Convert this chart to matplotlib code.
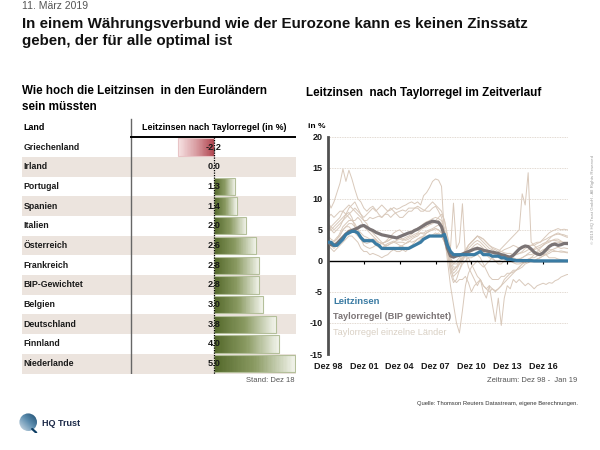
import numpy as np
import matplotlib
matplotlib.use("Agg")
import matplotlib.pyplot as plt
from matplotlib.colors import LinearSegmentedColormap
from matplotlib.patches import Rectangle, Circle

plt.rcParams['font.family'] = ['Liberation Sans', 'DejaVu Sans']
NARROW = ['Liberation Sans Narrow', 'Liberation Sans', 'DejaVu Sans']

# ---- table data (left) ----
countries = ["Griechenland", "Irland", "Portugal", "Spanien", "Italien", "Österreich",
             "Frankreich", "BIP-Gewichtet", "Belgien", "Deutschland", "Finnland", "Niederlande"]
taylor_now = [-2.2, 0.0, 1.3, 1.4, 2.0, 2.6, 2.8, 2.8, 3.0, 3.8, 4.0, 5.0]

# ---- time series (right), quarterly Dez 98 ... Dez 18, then Jan 19 ----
xtick_labels = ["Dez 98", "Dez 01", "Dez 04", "Dez 07", "Dez 10", "Dez 13", "Dez 16"]

leitzins = [3.0,
            3.0, 2.5, 2.5, 3.0,  3.5, 4.25, 4.5, 4.75,  4.75, 4.5, 3.75, 3.25,
            3.25, 3.25, 3.25, 2.75,  2.5, 2.0, 2.0, 2.0,  2.0, 2.0, 2.0, 2.0,
            2.0, 2.0, 2.0, 2.25,  2.5, 2.75, 3.0, 3.5,  3.75, 4.0, 4.0, 4.0,
            4.0, 4.0, 4.25, 2.5,  1.5, 1.0, 1.0, 1.0,  1.0, 1.0, 1.0, 1.0,
            1.0, 1.25, 1.5, 1.0,  1.0, 1.0, 0.75, 0.75,  0.75, 0.5, 0.5, 0.25,
            0.25, 0.15, 0.05, 0.05,  0.05, 0.05, 0.05, 0.05,  0.0, 0.0, 0.0, 0.0,
            0.0, 0.0, 0.0, 0.0,  0.0, 0.0, 0.0, 0.0,
            0.0]

taylor_bip = [3.1,
              2.6, 2.5, 2.8, 3.3,  3.8, 4.3, 4.7, 4.9,  5.1, 5.3, 5.6, 5.7,
              5.4, 5.1, 4.9, 4.6,  4.4, 4.2, 4.1, 4.0,  3.9, 3.8, 3.7, 3.9,
              4.1, 4.3, 4.5, 4.6,  4.9, 5.1, 5.4, 5.7,  6.0, 6.2, 6.4, 6.3,
              6.2, 5.5, 3.9, 2.0,  0.8, 0.6, 0.8, 0.9,  1.1, 1.3, 1.5, 1.7,
              1.9, 2.0, 1.9, 1.7,  1.6, 1.5, 1.4, 1.3,  1.2, 1.0, 0.9, 0.7,
              0.6, 0.9, 1.4, 1.9,  2.2, 2.4, 2.3, 1.9,  1.4, 1.1, 1.0, 1.3,
              1.8, 2.3, 2.6, 2.7,  2.5, 2.6, 2.8, 2.8,
              2.8]

tr_irland = [9.8,
             8.5, 9.5, 11.0, 12.5,  14.8, 12.8, 14.6, 13.2,  11.5, 10.0, 9.5, 8.5,
             8.0, 8.5, 8.8, 8.2,  7.5, 7.0, 7.5, 8.0,  8.2, 8.6, 8.3, 8.5,
             8.8, 9.0, 9.3, 9.5,  9.2, 9.5, 9.0, 10.5,  11.0, 11.8, 12.8, 13.2,
             13.0, 12.0, 4.0, 0.0,  -4.0, -7.0, -10.0, -11.6,  -8.0, -4.0, -2.0, -1.0,
             -0.5, 0.0, -0.5, -1.0,  -0.5, 0.0, 0.5, 1.0,  1.5, 2.0, 2.5, 3.0,
             3.5, 4.0, 4.5, 5.0,  10.8, 9.0, 14.2, 3.0,  2.5, 2.0, 1.5, 1.0,
             1.0, 0.5, 0.5, 0.5,  0.3, 0.2, 0.1, 0.0,
             0.0]
tr_griechenland = [6.0,
                   5.5, 5.0, 5.5, 6.0,  6.5, 7.0, 7.5, 8.0,  8.5, 8.0, 7.5, 7.0,
                   7.5, 8.0, 8.5, 8.0,  8.5, 9.0, 8.5, 8.0,  8.5, 8.0, 7.5, 7.0,
                   7.0, 7.5, 8.0, 8.0,  8.5, 8.5, 8.0, 8.0,  8.5, 9.0, 9.5, 9.0,
                   8.5, 8.0, 6.5, 4.0,  2.0, 9.3, 2.0, 3.0,  9.2, 1.0, -1.0, -2.0,
                   -3.0, -4.0, -3.0, -5.0,  -6.0, -4.0, -7.0, -9.8,  -6.0, -10.4, -6.0, -4.0,
                   -4.5, -3.0, -3.5, -3.0,  -3.5, -4.0, -3.6, -4.0,  -4.5, -4.0, -3.8, -3.6,
                   -3.8, -3.5, -3.6, -3.2,  -3.0, -2.6, -2.4, -2.2,
                   -2.2]
tr_deutschland = [2.5,
                  2.0, 1.5, 2.0, 2.5,  3.0, 3.5, 4.0, 4.0,  3.5, 3.0, 2.0, 1.5,
                  1.5, 1.0, 1.2, 1.0,  0.8, 0.5, 0.8, 1.0,  1.5, 1.8, 1.5, 1.5,
                  1.8, 1.5, 2.0, 2.2,  2.5, 3.0, 3.5, 4.0,  4.5, 4.8, 5.0, 5.2,
                  5.0, 4.5, 3.5, 1.5,  -1.0, -2.0, -1.5, -0.5,  0.5, 1.5, 2.5, 3.0,
                  3.5, 4.0, 3.8, 3.5,  3.0, 2.5, 2.2, 2.0,  1.8, 1.5, 1.8, 2.0,
                  2.2, 2.5, 2.3, 2.0,  2.0, 2.3, 2.5, 2.5,  2.8, 3.0, 3.0, 3.3,
                  3.5, 3.8, 4.0, 4.2,  4.3, 4.2, 4.0, 3.8,
                  3.8]
tr_finnland = [6.0,
               5.0, 4.5, 5.0, 5.5,  6.5, 7.5, 7.8, 7.0,  5.5, 4.5, 3.5, 3.0,
               3.2, 3.5, 3.0, 2.8,  2.5, 2.8, 3.0, 3.2,  3.5, 3.8, 3.5, 3.8,
               3.5, 3.8, 4.0, 4.3,  4.8, 5.2, 5.6, 6.0,  6.3, 6.5, 6.8, 7.0,
               6.8, 6.5, 5.0, 2.0,  -2.0, -3.5, -3.0, -1.5,  0.0, 1.5, 2.5, 3.0,
               3.5, 4.0, 3.5, 3.0,  2.5, 2.0, 1.8, 1.5,  1.0, 0.8, 0.5, 0.3,
               0.0, -0.3, -0.5, -0.5,  -0.3, 0.0, 0.2, 0.5,  1.0, 1.5, 2.0, 2.5,
               3.0, 3.5, 4.0, 4.3,  4.5, 4.3, 4.2, 4.0,
               4.0]
tr_niederlande = [5.5,
                  5.0, 5.5, 6.0, 6.5,  7.0, 7.5, 8.5, 9.0,  9.5, 8.5, 7.5, 6.5,
                  6.0, 5.0, 4.5, 4.0,  3.5, 3.0, 2.5, 2.0,  2.0, 2.2, 2.0, 2.3,
                  2.5, 2.8, 3.0, 3.5,  3.8, 4.0, 4.5, 4.5,  4.8, 5.0, 5.2, 5.5,
                  5.8, 5.5, 4.5, 2.5,  0.0, -1.0, -1.0, -0.5,  0.5, 1.0, 1.5, 2.0,
                  2.5, 2.8, 2.5, 2.0,  1.5, 1.0, 0.5, 0.0,  -0.5, -0.5, 0.0, 0.0,
                  0.5, 0.8, 1.0, 1.2,  1.5, 2.0, 2.2, 2.5,  2.5, 2.8, 3.0, 3.5,
                  4.0, 4.5, 4.8, 5.0,  5.2, 5.0, 5.1, 5.0,
                  5.0]
tr_spanien = [5.0,
              5.5, 6.0, 6.5, 7.0,  8.0, 8.5, 9.0, 8.5,  8.0, 7.5, 7.0, 6.5,
              6.5, 7.0, 6.8, 7.0,  7.2, 7.0, 7.5, 7.5,  7.0, 7.5, 7.8, 8.0,
              8.2, 8.0, 8.5, 8.5,  8.5, 8.8, 8.5, 8.2,  8.0, 8.0, 8.5, 8.8,
              8.0, 7.0, 5.0, 2.0,  -1.0, -3.0, -3.5, -3.0,  -3.0, -2.5, -3.5, -5.0,
              -4.0, -3.5, -3.0, -4.0,  -4.5, -5.0, -4.5, -4.8,  -4.5, -4.0, -3.5, -3.0,
              -2.5, -2.0, -1.5, -1.0,  -0.5, 0.0, 0.3, 0.5,  0.5, 0.8, 1.0, 1.3,
              1.5, 1.8, 1.8, 1.6,  1.5, 1.6, 1.5, 1.4,
              1.4]
tr_portugal = [7.0,
               7.5, 7.0, 7.5, 8.0,  8.0, 7.5, 7.0, 6.5,  6.5, 7.0, 6.5, 5.5,
               5.0, 4.5, 4.0, 3.5,  2.5, 2.0, 2.5, 2.8,  3.0, 3.2, 3.0, 3.0,
               3.0, 2.8, 3.2, 3.0,  3.2, 3.5, 3.8, 3.5,  3.8, 4.0, 4.2, 4.5,
               4.2, 4.0, 3.0, 1.5,  -0.5, -1.5, -1.0, 0.0,  0.5, 0.8, 0.5, -0.5,
               -1.5, -2.5, -3.0, -4.0,  -4.5, -4.0, -4.5, -5.0,  -4.5, -4.0, -3.0, -2.5,
               -2.0, -1.5, -1.5, -1.0,  -0.5, -0.3, 0.0, 0.0,  0.0, 0.3, 0.5, 0.8,
               1.0, 1.2, 1.5, 1.5,  1.5, 1.4, 1.4, 1.3,
               1.3]
tr_italien = [3.0,
              2.5, 2.0, 2.5, 3.0,  4.0, 4.5, 5.0, 5.0,  4.8, 4.5, 4.0, 3.5,
              3.5, 3.2, 3.0, 3.2,  3.0, 2.8, 2.5, 2.5,  2.8, 3.0, 2.8, 2.5,
              2.3, 2.0, 2.2, 2.5,  3.0, 3.5, 3.8, 4.0,  4.0, 4.2, 4.0, 4.2,
              4.5, 4.0, 3.0, 1.0,  -1.5, -2.5, -2.0, -1.5,  -0.5, 0.0, 0.5, 0.5,
              0.8, 1.0, 0.5, -0.5,  -1.5, -2.5, -3.0, -3.0,  -3.0, -2.5, -2.5, -2.0,
              -2.0, -1.8, -1.5, -1.3,  -1.0, -0.5, -0.3, 0.0,  0.0, 0.3, 0.5, 0.8,
              1.2, 1.5, 1.8, 2.0,  2.2, 2.0, 2.1, 2.0,
              2.0]
tr_oesterreich = [3.5,
                  3.0, 3.2, 3.8, 4.2,  5.0, 5.5, 5.5, 5.0,  4.5, 4.0, 3.5, 2.5,
                  2.2, 2.0, 2.2, 2.5,  2.2, 2.0, 2.3, 2.5,  2.8, 3.0, 3.3, 3.5,
                  3.3, 3.5, 3.8, 4.0,  4.3, 4.5, 5.0, 5.3,  5.5, 5.8, 6.0, 6.3,
                  6.5, 6.0, 5.0, 3.0,  0.5, -0.5, 0.0, 0.5,  1.0, 1.8, 2.5, 3.0,
                  3.5, 4.0, 3.8, 3.5,  3.0, 2.5, 2.0, 1.8,  1.5, 1.5, 1.3, 1.2,
                  1.2, 1.0, 1.0, 1.2,  1.3, 1.5, 1.8, 1.8,  1.8, 2.0, 2.2, 2.5,
                  2.8, 3.0, 3.3, 3.5,  3.5, 3.2, 2.8, 2.6,
                  2.6]
tr_frankreich = [4.0,
                 3.5, 3.2, 3.5, 4.0,  5.0, 5.5, 6.0, 6.0,  5.5, 5.0, 4.5, 4.0,
                 3.8, 3.5, 3.5, 3.3,  3.0, 2.8, 3.0, 3.2,  3.5, 3.8, 3.5, 3.8,
                 3.5, 3.3, 3.5, 3.8,  4.0, 4.3, 4.5, 4.3,  4.5, 4.8, 5.0, 5.2,
                 5.0, 4.5, 3.5, 1.8,  -0.5, -1.5, -1.0, -0.5,  0.0, 0.8, 1.2, 1.5,
                 2.0, 2.3, 2.0, 1.5,  1.0, 0.5, 0.3, 0.0,  0.0, 0.2, 0.3, 0.5,
                 0.5, 0.3, 0.2, 0.3,  0.5, 0.8, 1.0, 1.0,  1.2, 1.3, 1.5, 1.8,
                 2.0, 2.5, 2.8, 3.0,  3.0, 2.9, 2.8, 2.8,
                 2.8]
tr_belgien = [3.0,
              2.8, 3.0, 3.5, 4.5,  5.5, 6.0, 6.5, 6.5,  6.0, 5.0, 4.0, 3.0,
              2.8, 3.0, 3.5, 3.5,  3.0, 2.8, 3.0, 3.5,  4.0, 4.5, 4.8, 5.0,
              4.5, 4.3, 4.5, 4.8,  5.0, 5.3, 5.5, 5.5,  5.8, 6.0, 6.3, 6.5,
              7.0, 7.5, 6.5, 4.0,  0.5, -0.5, -0.5, 0.0,  1.0, 1.5, 2.0, 2.5,
              3.0, 3.3, 3.0, 2.5,  2.0, 1.5, 1.2, 1.0,  0.8, 0.6, 0.5, 0.5,
              0.5, 0.5, 0.3, 0.3,  0.5, 0.8, 1.2, 1.5,  2.0, 2.3, 2.5, 2.8,
              3.0, 3.2, 3.3, 3.3,  3.2, 3.1, 3.0, 3.0,
              3.0]

country_series = [tr_irland, tr_griechenland, tr_deutschland, tr_finnland, tr_niederlande,
                  tr_spanien, tr_portugal, tr_italien, tr_oesterreich, tr_frankreich, tr_belgien]

# colours
BLUE = "#3a7ba3"
GREY = "#7b7475"
BEIGE = "#d9c9bb"
SHADE = "#ece4de"

W, H = 600, 450


def fx(px):
    return px / W


def fy(py):
    return 1 - py / H


fig = plt.figure(figsize=(6, 4.5), dpi=100)

# ---------------- header texts ----------------
fig.text(fx(22), fy(6), "11. März 2019", fontsize=7.5, color="#555555", va="center")
fig.text(fx(22), fy(27.7), "In einem Währungsverbund wie der Eurozone kann es keinen Zinssatz",
         fontsize=10.9, fontweight="bold", va="baseline", color="#111111")
fig.text(fx(22), fy(45), "geben, der für alle optimal ist",
         fontsize=10.9, fontweight="bold", va="baseline", color="#111111")

fig.text(fx(22), fy(91), "Wie hoch die Leitzinsen  in den Euroländern", fontsize=8.4,
         fontweight="bold", va="center")
fig.text(fx(22), fy(107), "sein müssten", fontsize=8.4, fontweight="bold", va="center")
fig.text(fx(306), fy(93), "Leitzinsen  nach Taylorregel im Zeitverlauf", fontsize=8.4,
         fontweight="bold", va="center")

# ---------------- left table ----------------
row0, rowh = 147, 19.7
x0px, unit = 214, 16.2
ax_t = fig.add_axes([fx(22), fy(374), fx(296) - fx(22), (374 - 115) / H])
ax_t.set_axis_off()
xl = (-(x0px - 22) / unit, (296 - x0px) / unit)
yl = ((374 - row0) / rowh, (115 - row0) / rowh)

blend = ax_t.get_yaxis_transform()
n = len(countries)
for i in range(n):
    if i % 2 == 1:
        ax_t.axhspan(i - 0.5, i + 0.5, color=SHADE, lw=0, zorder=0)

div = (131 - 22) / 274
ax_t.plot([div, div], [(119 - row0) / rowh, n - 0.5], transform=blend, color="#666666", lw=1, zorder=3)
ax_t.plot([div, 1.0], [-0.5, -0.5], transform=blend, color="black", lw=1.4, zorder=3)

ax_t.text(0.005, -1, "Land", transform=blend, fontsize=6.4, fontweight="bold",
          family=NARROW, va="center")
ax_t.text(0, -1, "Leitzinsen nach Taylorregel (in %)", fontsize=6.4, fontweight="bold",
          family=NARROW, va="center", ha="center")

# colour ramps, position 0 = at the zero line, 1 = at the bar end
green = LinearSegmentedColormap.from_list("g", ["#53682a", "#8a9a62", "#f1f3ea"])
red = LinearSegmentedColormap.from_list("r", ["#b0454f", "#d99da2", "#f6e1e2"])
nseg = 60

labels = [f"{v:.1f}" for v in taylor_now]
labels[0] = labels[0].replace(".", ",")

for i, (name, v) in enumerate(zip(countries, taylor_now)):
    ax_t.text(0.005, i, name, transform=blend, fontsize=6.3, fontweight="bold",
              family=NARROW, va="center", color="#1a1a1a")
    if v != 0:
        cm = green if v > 0 else red
        step = v / nseg
        for k in range(nseg):
            ax_t.barh(i, step * 1.02, left=k * step, height=0.88,
                      color=cm(k / (nseg - 1)), lw=0, zorder=2)
        edge = "#b4bf9a" if v > 0 else "#e8c4c6"
        ax_t.add_patch(Rectangle((min(0, v), i - 0.44), abs(v), 0.88, fill=False,
                                 edgecolor=edge, lw=0.8, zorder=2.5))
    ax_t.text(0, i, labels[i], fontsize=6.6, fontweight="bold", family=NARROW,
              ha="center", va="center", zorder=5, color="#1a1a1a")

ax_t.plot([0, 0], [-0.5, n - 0.5], ls=(0, (1, 1)), color="black", lw=0.9, zorder=4)
ax_t.set_xlim(*xl)
ax_t.set_ylim(*yl)

fig.text(fx(295), fy(381), "Stand: Dez 18", fontsize=5.5, family=NARROW, color="#555555",
         ha="right", va="center")

# ---------------- right line chart ----------------
t = np.append(np.arange(81) * 0.25, 20 + 1 / 12)
ax = fig.add_axes([fx(328), fy(354), (568 - 328) / W, (354 - 136.7) / H])
ax.set_xlim(0, t[-1])
ax.set_ylim(-15, 20)

for g in [20, 15, 10, 5, -5, -10, -15]:
    ax.axhline(g, color="#d8cdc2", lw=0.6, ls=(0, (1, 1)), zorder=0)

for s in country_series:
    ax.plot(t, s, color=BEIGE, lw=0.7, zorder=1)

ax.axhline(0, color="black", lw=1, zorder=2)
xt = np.arange(0, 19, 3)
ax.vlines(xt[1:], -0.45, 0, color="black", lw=0.8, zorder=2)

ax.plot(t, taylor_bip, color=GREY, lw=2.3, zorder=3, solid_capstyle="butt")
ax.plot(t, leitzins, color=BLUE, lw=2.3, zorder=4, solid_capstyle="butt")

for side in ["top", "right", "bottom"]:
    ax.spines[side].set_visible(False)
ax.spines["left"].set_color("#505050")
ax.spines["left"].set_linewidth(2)

ax.set_yticks([20, 15, 10, 5, 0, -5, -10, -15])
ax.set_yticklabels(["20", "15", "10", "5", "0", "-5", "-10", "-15"])
ax.set_xticks(xt)
ax.set_xticklabels(xtick_labels)
ax.tick_params(axis="both", length=0, labelsize=6.5, colors="#1a1a1a")
ax.tick_params(axis="y", pad=4)
ax.tick_params(axis="x", pad=6)
for lab in ax.get_xticklabels() + ax.get_yticklabels():
    lab.set_fontweight("bold")
    lab.set_family(NARROW)

ax.text(0.45, -6.5, "Leitzinsen", color=BLUE, fontsize=6.8, fontweight="bold", va="center")
ax.text(0.45, -8.9, "Taylorregel (BIP gewichtet)", color=GREY, fontsize=6.6, fontweight="bold",
        va="center")
ax.text(0.45, -11.5, "Taylorregel einzelne Länder", color="#d9d0c4", fontsize=6.6, va="center")

fig.text(fx(308), fy(126), "in %", fontsize=6, fontweight="bold", family=NARROW, va="center")
fig.text(fx(577), fy(381), "Zeitraum: Dez 98 -  Jan 19", fontsize=5.5, family=NARROW,
         color="#555555", ha="right", va="center")
fig.text(fx(578), fy(403), "Quelle: Thomson Reuters Datastream, eigene Berechnungen.",
         fontsize=4.2, family=NARROW, color="#333333", ha="right", va="center")
fig.text(fx(593), fy(199), "© 2019 HQ Trust GmbH - All Rights Reserved", fontsize=3.2,
         color="#9a9a9a", rotation=90, ha="center", va="center")

# ---------------- logo ----------------
ax_l = fig.add_axes([fx(19), fy(433), 20 / W, 20 / H])
ax_l.set_axis_off()
ax_l.set_xlim(0, 1)
ax_l.set_ylim(0, 1)
lg = np.linspace(0, 1, 64)
lgrid = np.add.outer(lg[::-1], lg) / 2
logo_cm = LinearSegmentedColormap.from_list("l", ["#e4eaf0", "#5f8fb0", "#0d3d63"])
im = ax_l.imshow(lgrid, cmap=logo_cm, extent=(0, 1, 0, 1), origin="upper")
circ = Circle((0.46, 0.54), 0.44, transform=ax_l.transData)
im.set_clip_path(circ)
ax_l.plot([0.66, 0.86], [0.2, 0.02], color="#0d3d63", lw=1.6, solid_capstyle="round")
fig.text(fx(42), fy(423), "HQ Trust", fontsize=6.5, fontweight="bold", color="#1c2a48",
         va="center")

fig.savefig("out.png", dpi=100)
